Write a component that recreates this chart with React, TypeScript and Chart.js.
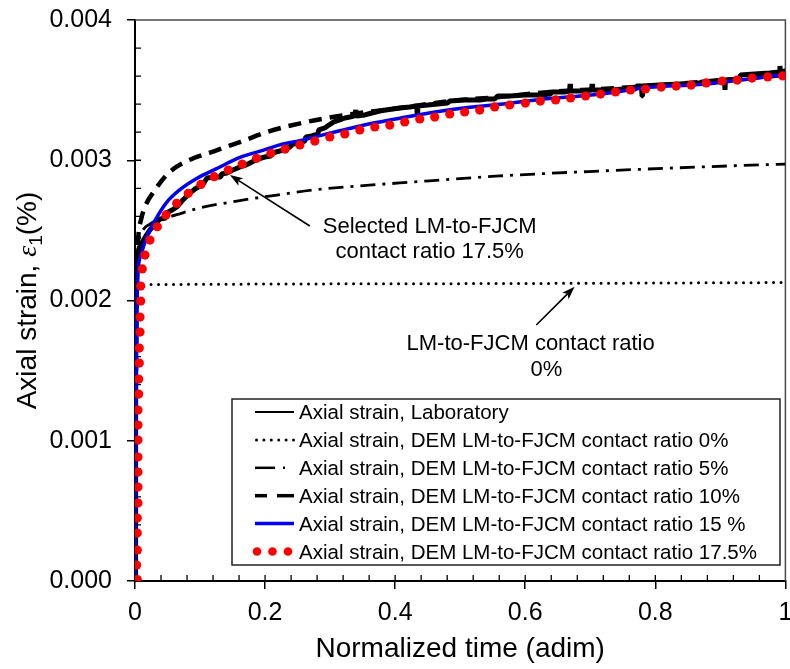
import React, { useEffect, useRef } from "react";
import { Chart, registerables } from "chart.js";

Chart.register(...registerables);

const SANS = '"Liberation Sans", Arial, Helvetica, sans-serif';
const SERIF = '"Liberation Serif", "DejaVu Serif", serif';

// Axis ticks
const xTickValues = [0, 0.2, 0.4, 0.6, 0.8, 1];
const xTickLabels = ["0", "0.2", "0.4", "0.6", "0.8", "1"];
const yTickValues = [0, 0.001, 0.002, 0.003, 0.004];
const yTickLabels = ["0.000", "0.001", "0.002", "0.003", "0.004"];
const xMinorStep = 0.04;
const yMinorStep = 0.0002;

const xTitle = "Normalized time (adim)";

const seriesLabels = [
  "Axial strain, Laboratory",
  "Axial strain, DEM LM-to-FJCM contact ratio 0%",
  "Axial strain, DEM LM-to-FJCM contact ratio 5%",
  "Axial strain, DEM LM-to-FJCM contact ratio 10%",
  "Axial strain, DEM LM-to-FJCM contact ratio 15 %",
  "Axial strain, DEM LM-to-FJCM contact ratio 17.5%",
];

// [normalized time, axial strain]
const labStrain: [number, number][] = [
  [0, 0], [0.0005, 0.000578], [0.0009, 0.001148], [0.0014, 0.001718], [0.0018, 0.002075],
  [0.0023, 0.002275], [0.0046, 0.002346], [0.0077, 0.002389], [0.0123, 0.002424], [0.0169, 0.00246],
  [0.023, 0.002503], [0.0307, 0.002545], [0.0384, 0.002581], [0.0476, 0.002588], [0.0484, 0.002624],
  [0.0568, 0.002645], [0.0645, 0.002667], [0.0737, 0.002717], [0.0845, 0.002766], [0.0922, 0.002795],
  [0.0998, 0.002816], [0.106, 0.002838], [0.1106, 0.002873], [0.1214, 0.002881], [0.1321, 0.002881],
  [0.1329, 0.002902], [0.1413, 0.002909], [0.1505, 0.00293], [0.1613, 0.002952], [0.1705, 0.002966],
  [0.1797, 0.002988], [0.1889, 0.003009], [0.1997, 0.003023], [0.2089, 0.00303], [0.2104, 0.003052],
  [0.2227, 0.003066], [0.2304, 0.00308], [0.2381, 0.003094], [0.2427, 0.003116], [0.2535, 0.003123],
  [0.2611, 0.003137], [0.2627, 0.003166], [0.2719, 0.003173], [0.2811, 0.003187], [0.2826, 0.003216],
  [0.2919, 0.00323], [0.298, 0.003251], [0.3057, 0.003273], [0.3149, 0.003287], [0.3226, 0.003301],
  [0.3303, 0.003308], [0.3379, 0.003316], [0.3395, 0.003358], [0.3402, 0.003316], [0.3533, 0.003323],
  [0.3641, 0.003337], [0.3763, 0.003351], [0.3856, 0.003358], [0.3963, 0.003365], [0.4071, 0.003373],
  [0.4224, 0.00338], [0.4332, 0.003387], [0.434, 0.003316], [0.4347, 0.003387], [0.4501, 0.003394],
  [0.4654, 0.003401], [0.4808, 0.003408], [0.4839, 0.003422], [0.5069, 0.00343], [0.53, 0.00343],
  [0.5407, 0.003437], [0.553, 0.003437], [0.5576, 0.003458], [0.576, 0.003458], [0.5991, 0.003465],
  [0.6221, 0.003465], [0.639, 0.003472], [0.6406, 0.003487], [0.6605, 0.003487], [0.6682, 0.003494],
  [0.669, 0.003544], [0.6697, 0.003494], [0.6912, 0.003494], [0.702, 0.003501], [0.7028, 0.003544],
  [0.7035, 0.003501], [0.7296, 0.003501], [0.7527, 0.003508], [0.7696, 0.003508], [0.7711, 0.003529],
  [0.7788, 0.003529], [0.7796, 0.003458], [0.7803, 0.003529], [0.8065, 0.003537], [0.8372, 0.003544],
  [0.8679, 0.003551], [0.8725, 0.003558], [0.8909, 0.003565], [0.9063, 0.003572], [0.9071, 0.003501],
  [0.9078, 0.003572], [0.9293, 0.003579], [0.9309, 0.003608], [0.9524, 0.003615], [0.9754, 0.003622],
  [0.9908, 0.003629], [0.9916, 0.003672], [0.9923, 0.003629], [1, 0.003636],
];

const dem0Strain: [number, number][] = [
  [0, 0], [0.0008, 0.000934], [0.0015, 0.00179], [0.0026, 0.002039], [0.0054, 0.002096],
  [0.0108, 0.00211], [0.0384, 0.002114], [0.2535, 0.002118], [0.5607, 0.002121], [1, 0.002128],
];

const dem5Strain: [number, number][] = [
  [0, 0], [0.0008, 0.00072], [0.0015, 0.001433], [0.0023, 0.002004], [0.0031, 0.002232],
  [0.0054, 0.002396], [0.0108, 0.002488], [0.023, 0.002545], [0.0384, 0.002581], [0.0564, 0.002602],
  [0.0998, 0.00266], [0.1567, 0.002709], [0.2181, 0.002752], [0.2734, 0.002788],
  [0.3303, 0.002812], [0.4071, 0.002838], [0.5607, 0.002888], [0.7143, 0.002923], [0.8679, 0.002952],
  [1, 0.002973],
];

const dem10Strain: [number, number][] = [
  [0, 0], [0.0008, 0.00072], [0.0015, 0.001433], [0.0026, 0.002004], [0.0035, 0.002289],
  [0.0051, 0.002455], [0.0092, 0.002574], [0.0154, 0.002669], [0.0307, 0.002788], [0.0461, 0.002883],
  [0.0641, 0.002954], [0.0896, 0.003014], [0.1152, 0.003054], [0.1409, 0.003097], [0.1613, 0.00313],
  [0.2028, 0.003201], [0.2488, 0.003258], [0.2949, 0.003301], [0.3349, 0.00333], [0.407, 0.003372],
  [0.4839, 0.003422], [0.5607, 0.003451], [0.6375, 0.003487], [0.7143, 0.003508], [0.7911, 0.003529],
  [0.8679, 0.003558], [0.9447, 0.003586], [1, 0.003608],
];

const dem15Strain: [number, number][] = [
  [0, 0], [0.0009, 0.000578], [0.0018, 0.00129], [0.0028, 0.00186], [0.0038, 0.00211],
  [0.0051, 0.00223], [0.0103, 0.00234], [0.018, 0.00245], [0.0307, 0.00257], [0.0487, 0.0027],
  [0.0691, 0.00279], [0.0948, 0.00287], [0.1255, 0.00294], [0.1613, 0.00302], [0.1966, 0.00307],
  [0.2227, 0.00311], [0.2535, 0.00314], [0.3149, 0.00321], [0.361, 0.00326], [0.407, 0.0033],
  [0.484, 0.00336], [0.561, 0.0034], [0.637, 0.00344], [0.714, 0.00347], [0.791, 0.00352],
  [0.868, 0.00354], [0.945, 0.00358], [1, 0.00361],
];

const dem175Strain: [number, number][] = [
  [0.0035, 0.00001], [0.0026, 0.000114], [0.0035, 0.000221], [0.0035, 0.000342], [0.0035, 0.000449],
  [0.0046, 0.000556], [0.0046, 0.00067], [0.0046, 0.000777], [0.0046, 0.000884], [0.0046, 0.001005],
  [0.0046, 0.001112], [0.0046, 0.001219], [0.0057, 0.001333], [0.0057, 0.00144], [0.0066, 0.001554],
  [0.0066, 0.001661], [0.0077, 0.001775], [0.0077, 0.001882], [0.0088, 0.001996], [0.0088, 0.002103],
  [0.0112, 0.002225], [0.0154, 0.002324], [0.023, 0.002431], [0.0343, 0.002526], [0.0476, 0.00261],
  [0.0641, 0.002693], [0.0819, 0.002764], [0.1014, 0.002828], [0.1218, 0.002883], [0.1433, 0.00293],
  [0.1648, 0.002973], [0.1869, 0.003014], [0.2089, 0.00305], [0.2309, 0.00308], [0.2535, 0.003109],
  [0.2765, 0.003137], [0.2995, 0.003166], [0.3226, 0.003187], [0.3456, 0.003216], [0.3687, 0.003237],
  [0.3917, 0.003251], [0.4147, 0.003273], [0.4378, 0.003294], [0.4608, 0.003308], [0.4839, 0.00333],
  [0.5069, 0.003344], [0.53, 0.003358], [0.553, 0.00338], [0.576, 0.003394], [0.6002, 0.003408],
  [0.6232, 0.003422], [0.6467, 0.00343], [0.6697, 0.003444], [0.6928, 0.003458], [0.7158, 0.003472],
  [0.7389, 0.003487], [0.7619, 0.003501], [0.7849, 0.003508], [0.8091, 0.003522], [0.8321, 0.003529],
  [0.8551, 0.003536], [0.8782, 0.003551], [0.9028, 0.003565], [0.9258, 0.003572], [0.9488, 0.003586],
  [0.9728, 0.003594], [0.9958, 0.003601],
];

// Callout texts (data coordinates of each line's baseline centre) and arrows
const callouts = [
  {
    lines: [
      { text: "Selected LM-to-FJCM", at: [0.4531, 0.002481] },
      { text: "contact ratio 17.5%", at: [0.4531, 0.002303] },
    ],
    tail: [0.2688, 0.002531],
    head: [0.1459, 0.002895],
  },
  {
    lines: [
      { text: "LM-to-FJCM contact ratio", at: [0.6083, 0.001647] },
      { text: "0%", at: [0.6324, 0.001462] },
    ],
    tail: [0.617, 0.001825],
    head: [0.6759, 0.002098],
  },
];

const toPoints = (rows: [number, number][]) => rows.map(([x, y]) => ({ x, y }));

const BLUE = "#0000f0";
const RED = "#ff0000";

function drawLegend(ctx: CanvasRenderingContext2D) {
  const box = { left: 232, top: 399, right: 780, bottom: 565 };
  const row0 = 412;
  const rowGap = 27.9;
  const s0 = 255;
  const s1 = 294;
  const textX = 299;

  ctx.save();
  ctx.fillStyle = "#fff";
  ctx.fillRect(box.left, box.top, box.right - box.left, box.bottom - box.top);
  ctx.strokeStyle = "#222";
  ctx.lineWidth = 1.5;
  ctx.strokeRect(box.left, box.top, box.right - box.left, box.bottom - box.top);

  const line = (y: number, color: string, width: number, dash: number[], cap: CanvasLineCap, a = s0, b = s1) => {
    ctx.beginPath();
    ctx.strokeStyle = color;
    ctx.lineWidth = width;
    ctx.lineCap = cap;
    ctx.setLineDash(dash);
    ctx.moveTo(a, y);
    ctx.lineTo(b, y);
    ctx.stroke();
    ctx.setLineDash([]);
  };

  seriesLabels.forEach((label, i) => {
    const y = row0 + i * rowGap;
    if (i === 0) line(y, "#000", 2, [], "butt");
    if (i === 1) line(y, "#000", 3, [0, 7.4], "round", s0 + 1.5, s1);
    if (i === 2) {
      line(y, "#000", 2.5, [], "butt", s0, s0 + 20);
      line(y, "#000", 2.5, [], "butt", s0 + 28, s0 + 30);
    }
    if (i === 3) {
      line(y, "#000", 3.5, [], "butt", s0, s0 + 12);
      line(y, "#000", 3.5, [], "butt", s0 + 22, s1);
    }
    if (i === 4) line(y, BLUE, 3.5, [], "butt");
    if (i === 5) {
      ctx.fillStyle = RED;
      [s0 + 2, s0 + 17.5, s0 + 33].forEach((cx) => {
        ctx.beginPath();
        ctx.arc(cx, y, 4.3, 0, Math.PI * 2);
        ctx.fill();
      });
    }
    ctx.fillStyle = "#000";
    ctx.font = `20.5px ${SANS}`;
    ctx.textAlign = "left";
    ctx.textBaseline = "alphabetic";
    ctx.fillText(label, textX, y + 7.3);
  });
  ctx.restore();
}

const framePlugin = {
  id: "frameAndMinorTicks",
  beforeDatasetsDraw(chart: any) {
    const { ctx, chartArea: a, scales } = chart;
    const xs = scales.x;
    const ys = scales.y;
    ctx.save();
    ctx.strokeStyle = "#4a4a4a";
    ctx.lineWidth = 1.5;
    ctx.beginPath();
    ctx.moveTo(a.left, a.top);
    ctx.lineTo(a.right, a.top);
    ctx.lineTo(a.right, a.bottom);
    ctx.stroke();

    ctx.strokeStyle = "#000";
    ctx.lineWidth = 1.3;
    ctx.beginPath();
    const nx = Math.round(1 / xMinorStep);
    for (let i = 1; i < nx; i++) {
      const px = xs.getPixelForValue(i * xMinorStep);
      ctx.moveTo(px, a.bottom);
      ctx.lineTo(px, a.bottom - 6);
    }
    const ny = Math.round(0.004 / yMinorStep);
    for (let i = 1; i < ny; i++) {
      const py = ys.getPixelForValue(i * yMinorStep);
      ctx.moveTo(a.left, py);
      ctx.lineTo(a.left + 6, py);
    }
    ctx.stroke();
    ctx.restore();
  },
  afterDatasetsDraw(chart: any) {
    const { ctx, chartArea: a, scales } = chart;
    const xs = scales.x;
    const ys = scales.y;
    ctx.save();

    // Callouts with arrows
    callouts.forEach((c) => {
      ctx.fillStyle = "#000";
      ctx.font = `22px ${SANS}`;
      ctx.textAlign = "center";
      ctx.textBaseline = "alphabetic";
      c.lines.forEach((l) => {
        ctx.fillText(l.text, xs.getPixelForValue(l.at[0]), ys.getPixelForValue(l.at[1]));
      });
      const tx = xs.getPixelForValue(c.tail[0]);
      const ty = ys.getPixelForValue(c.tail[1]);
      const hx = xs.getPixelForValue(c.head[0]);
      const hy = ys.getPixelForValue(c.head[1]);
      const ang = Math.atan2(hy - ty, hx - tx);
      const len = 13;
      const half = 4.5;
      const bx = hx - Math.cos(ang) * len;
      const by = hy - Math.sin(ang) * len;
      ctx.strokeStyle = "#000";
      ctx.lineWidth = 1.6;
      ctx.beginPath();
      ctx.moveTo(tx, ty);
      ctx.lineTo(bx + Math.cos(ang) * 3, by + Math.sin(ang) * 3);
      ctx.stroke();
      ctx.beginPath();
      ctx.moveTo(hx, hy);
      ctx.lineTo(bx - Math.sin(ang) * half, by + Math.cos(ang) * half);
      ctx.lineTo(bx + Math.cos(ang) * 3, by + Math.sin(ang) * 3);
      ctx.lineTo(bx + Math.sin(ang) * half, by - Math.cos(ang) * half);
      ctx.closePath();
      ctx.fill();
    });

    drawLegend(ctx);

    // X axis title
    ctx.fillStyle = "#000";
    ctx.font = `28px ${SANS}`;
    ctx.textAlign = "center";
    ctx.textBaseline = "alphabetic";
    ctx.fillText(xTitle, (a.left + a.right) / 2, 657);

    // Y axis title: "Axial strain, ε1(%)" with italic epsilon and subscript
    const parts = [
      { text: "Axial strain, ", font: `28px ${SANS}`, dy: 0 },
      { text: "ε", font: `italic 28px ${SERIF}`, dy: 0 },
      { text: "1", font: `19px ${SANS}`, dy: 6 },
      { text: "(%)", font: `28px ${SANS}`, dy: 0 },
    ];
    let total = 0;
    const widths = parts.map((p) => {
      ctx.font = p.font;
      const w = ctx.measureText(p.text).width;
      total += w;
      return w;
    });
    ctx.translate(36, (a.top + a.bottom) / 2);
    ctx.rotate(-Math.PI / 2);
    ctx.textAlign = "left";
    let cx = -total / 2;
    parts.forEach((p, i) => {
      ctx.font = p.font;
      ctx.fillText(p.text, cx, p.dy);
      cx += widths[i];
    });
    ctx.restore();
  },
};

export default function App() {
  const ref = useRef<HTMLCanvasElement>(null);

  useEffect(() => {
    const canvas = ref.current;
    if (!canvas) return;

    const chart = new Chart(canvas, {
      type: "line",
      data: {
        datasets: [
          {
            label: seriesLabels[5],
            data: toPoints(dem175Strain),
            showLine: false,
            pointRadius: 4.6,
            pointBackgroundColor: RED,
            pointBorderWidth: 0,
            borderColor: RED,
            order: 0,
          },
          {
            label: seriesLabels[4],
            data: toPoints(dem15Strain),
            borderColor: BLUE,
            borderWidth: 3.5,
            pointRadius: 0,
            cubicInterpolationMode: "monotone",
            order: 1,
          },
          {
            label: seriesLabels[3],
            data: toPoints(dem10Strain),
            borderColor: "#000",
            borderWidth: 4.5,
            borderDash: [13, 8],
            pointRadius: 0,
            cubicInterpolationMode: "monotone",
            order: 2,
          },
          {
            label: seriesLabels[2],
            data: toPoints(dem5Strain),
            borderColor: "#000",
            borderWidth: 2.8,
            borderDash: [15, 7, 3, 7],
            pointRadius: 0,
            cubicInterpolationMode: "monotone",
            order: 3,
          },
          {
            label: seriesLabels[1],
            data: toPoints(dem0Strain),
            borderColor: "#000",
            borderWidth: 3,
            borderDash: [0, 7.5],
            borderCapStyle: "round",
            pointRadius: 0,
            cubicInterpolationMode: "monotone",
            order: 4,
          },
          {
            label: seriesLabels[0],
            data: toPoints(labStrain),
            borderColor: "#000",
            borderWidth: 5,
            borderJoinStyle: "bevel",
            pointRadius: 0,
            tension: 0,
            order: 5,
          },
        ],
      },
      options: {
        responsive: false,
        animation: false,
        devicePixelRatio: 1,
        layout: { padding: { left: 0, right: 4, top: 20, bottom: 0 } },
        plugins: { legend: { display: false }, tooltip: { enabled: false } },
        scales: {
          x: {
            type: "linear",
            min: 0,
            max: 1,
            afterBuildTicks: (s: any) => {
              s.ticks = xTickValues.map((value) => ({ value }));
            },
            afterFit: (s: any) => {
              s.height = 88;
              s.paddingLeft = 0;
              s.paddingRight = 0;
            },
            ticks: {
              callback: (_v: any, i: number) => xTickLabels[i],
              font: { family: SANS, size: 25 },
              color: "#000",
              padding: 9,
              maxRotation: 0,
              autoSkip: false,
            },
            grid: { drawOnChartArea: false, tickLength: 8, color: "#000", lineWidth: 1.5 },
            border: { color: "#000", width: 2 },
          },
          y: {
            type: "linear",
            min: 0,
            max: 0.004,
            afterBuildTicks: (s: any) => {
              s.ticks = yTickValues.map((value) => ({ value }));
            },
            afterFit: (s: any) => {
              s.width = 135;
              s.paddingTop = 0;
              s.paddingBottom = 0;
            },
            ticks: {
              callback: (_v: any, i: number) => yTickLabels[i],
              font: { family: SANS, size: 25 },
              color: "#000",
              padding: 15,
              autoSkip: false,
            },
            grid: { drawOnChartArea: false, tickLength: 8, color: "#000", lineWidth: 1.5 },
            border: { color: "#000", width: 2 },
          },
        },
      },
      plugins: [framePlugin],
    } as any);

    return () => chart.destroy();
  }, []);

  return (
    <canvas
      ref={ref}
      width={790}
      height={669}
      style={{ position: "absolute", left: 0, top: 0, display: "block" }}
    />
  );
}
